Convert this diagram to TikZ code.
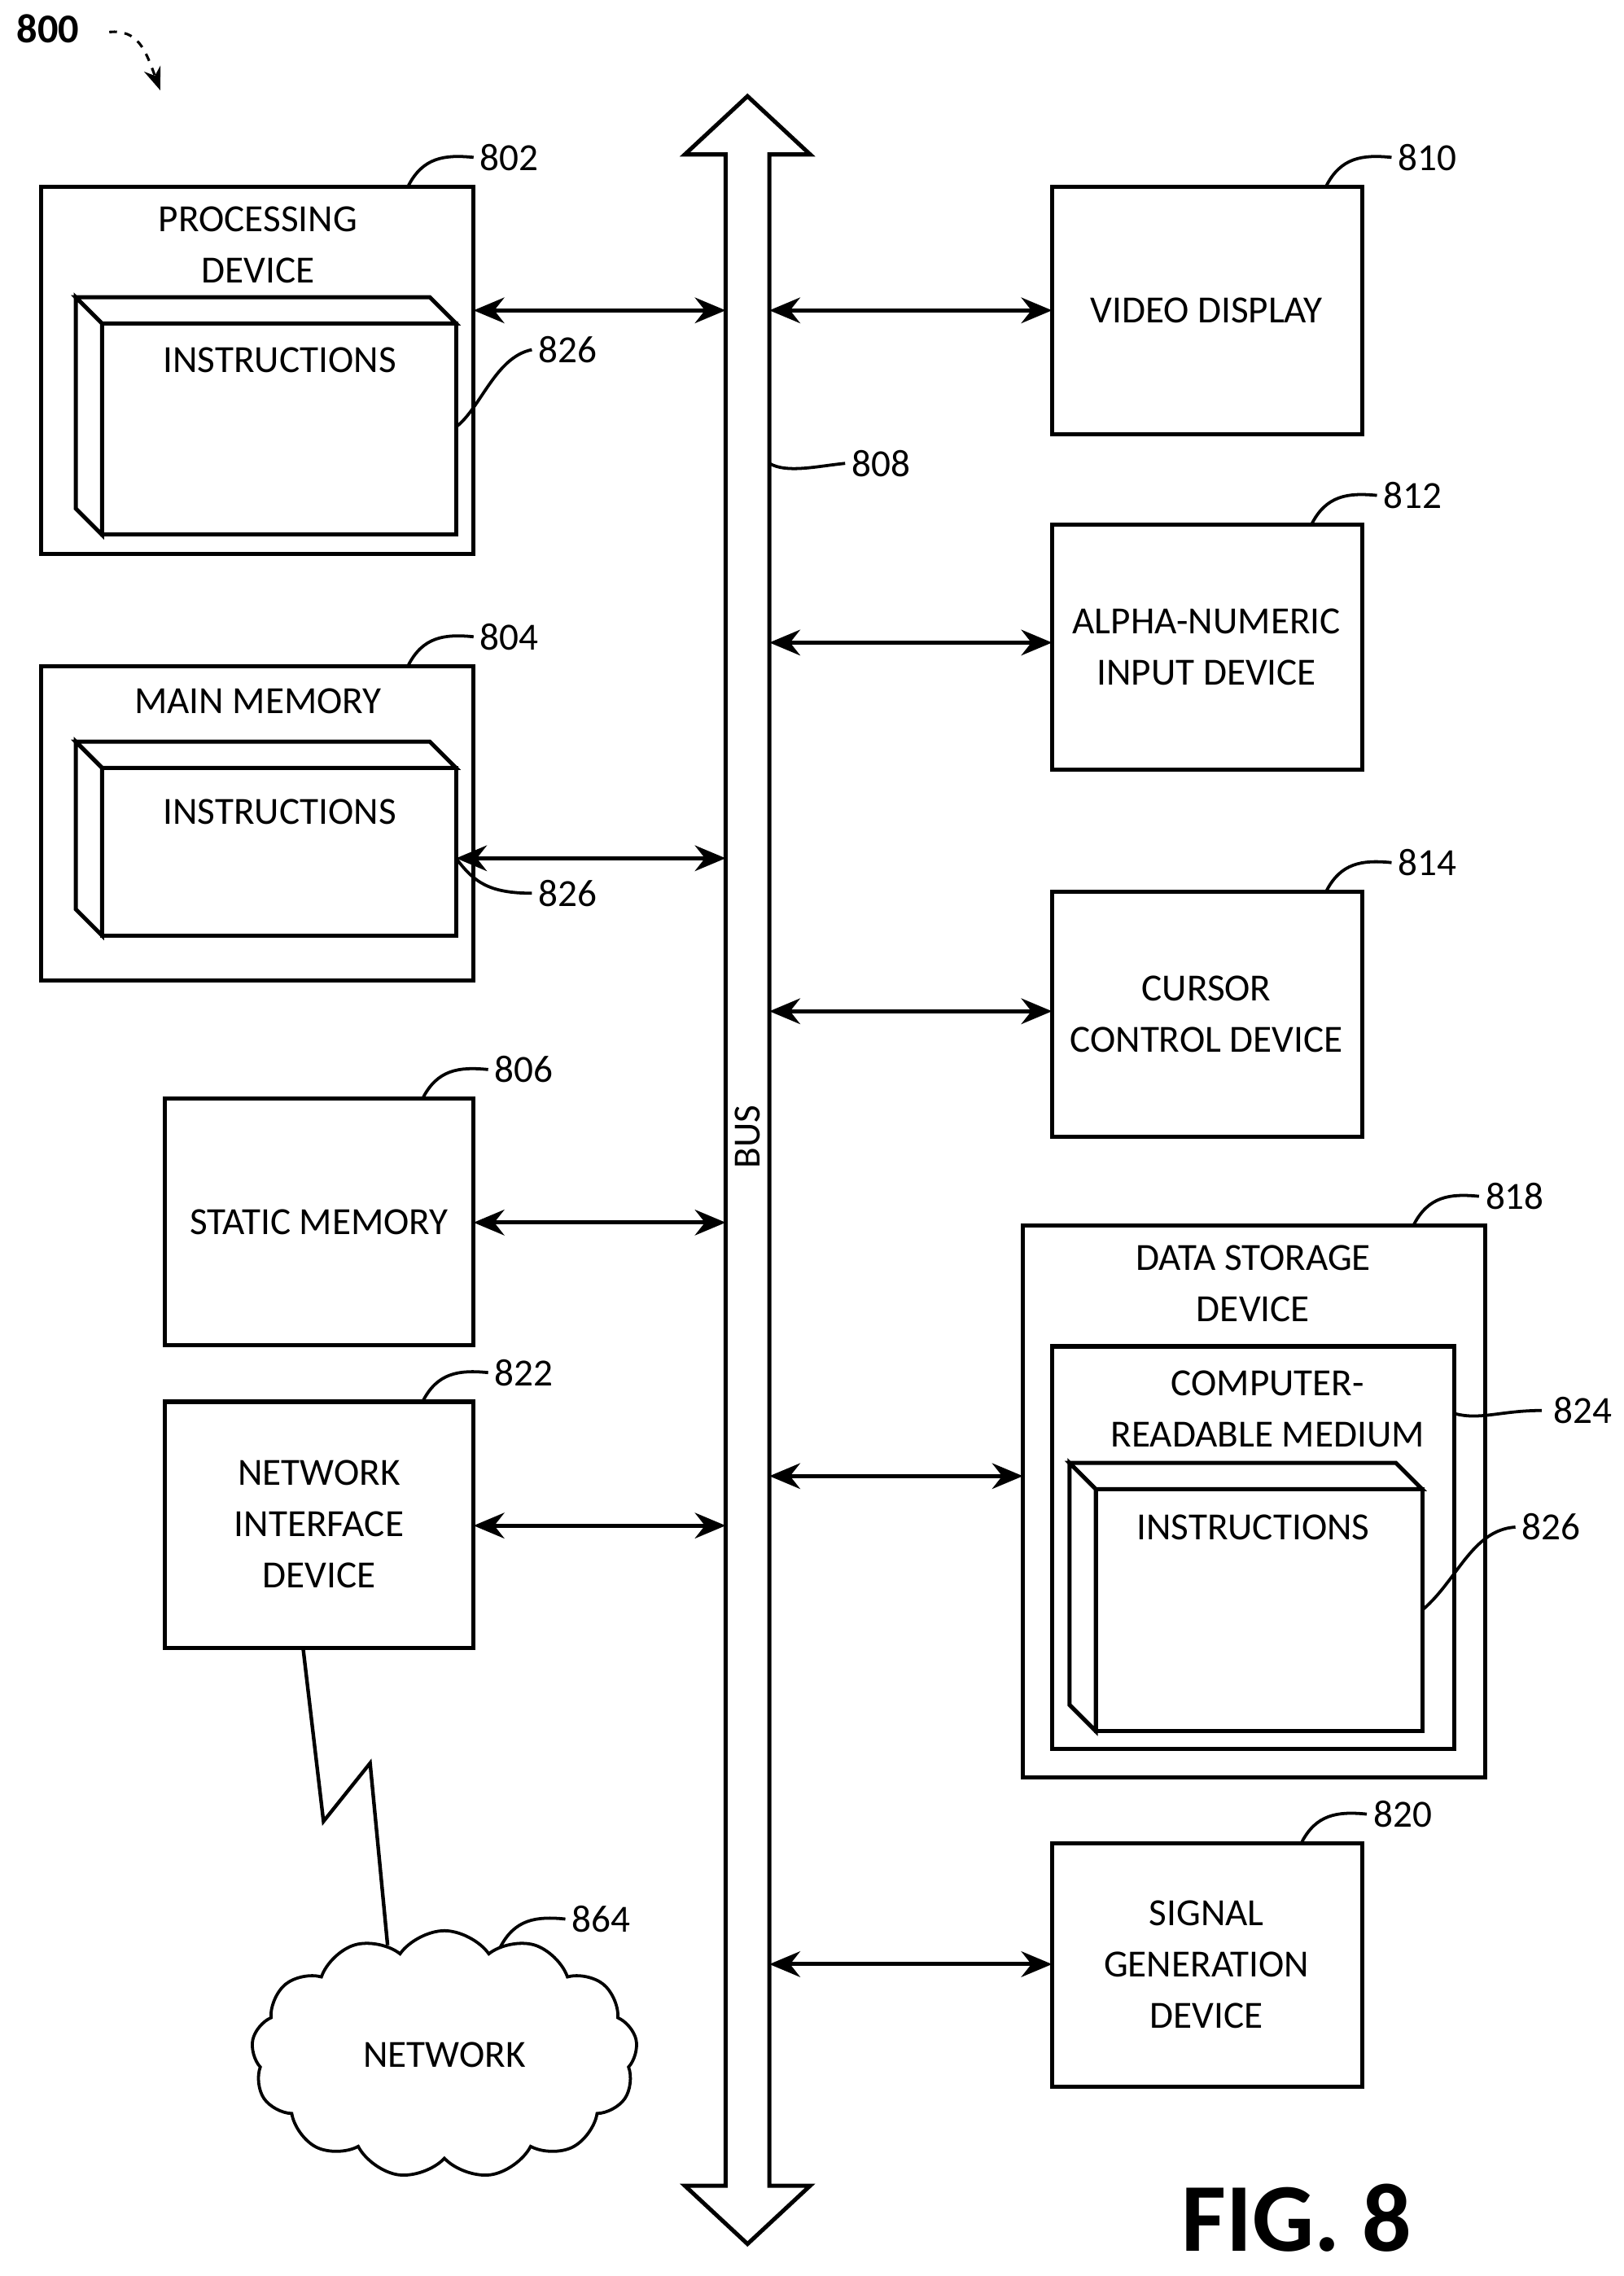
\documentclass[tikz,border=0pt]{standalone}
\usepackage{fontspec}
\setmainfont{Carlito}
\usetikzlibrary{arrows.meta,shapes.symbols}
\tikzset{
  box/.style={draw,line width=1.6pt},
  lbl/.style={font=\fontsize{15}{20}\selectfont,align=center},
  bi/.style={line width=1.6pt,{Stealth[length=12pt,width=10pt]}-{Stealth[length=12pt,width=10pt]}},
  lead/.style={line width=1.2pt}
}
\newcommand{\instrbox}[4]{% front x1,y1,x2,y2
  \draw[box,fill=white] (#1-18,#2-18) -- (#3-18,#2-18) -- (#3,#2) -- (#1,#2) -- cycle;
  \draw[box,fill=white] (#1-18,#2-18) -- (#1,#2) -- (#1,#4) -- (#1-18,#4-18) -- cycle;
  \draw[box] (#1,#2) rectangle (#3,#4);
}
\newcommand{\refnum}[3]{% start x,y ; number
  \draw[lead] (#1,#2) .. controls (#1+10,#2-20) and (#1+25,#2-22) .. (#1+45,#2-20)
    node[lbl,right,inner sep=2pt]{#3};
}
\begin{document}
\begin{tikzpicture}[x=0.02cm,y=-0.02cm]
\useasboundingbox (0,0) rectangle (1114,1562);
% bus
\draw[box,fill=white] (513,66) -- (556,106) -- (528,106) -- (528,1500) -- (556,1500)
  -- (513,1540) -- (470,1500) -- (498,1500) -- (498,106) -- (470,106) -- cycle;
\node[lbl,rotate=90] (bus) at (513,780) {BUS};
% left column
\draw[box] (28,128) rectangle (325,380);
\node[lbl] (pdt) at (177,168) {PROCESSING\\DEVICE};
\instrbox{70}{222}{313}{367}
\node[lbl] (pdi) at (192,247) {INSTRUCTIONS};
\draw[box] (28,457) rectangle (325,673);
\node[lbl] (mmt) at (177,481) {MAIN MEMORY};
\instrbox{70}{527}{313}{642}
\node[lbl] (mmi) at (192,557) {INSTRUCTIONS};
\draw[box] (113,754) rectangle (325,923);
\node[lbl] (sm) at (219,839) {STATIC MEMORY};
\draw[box] (113,962) rectangle (325,1131);
\node[lbl] (nid) at (219,1046) {NETWORK\\INTERFACE\\DEVICE};
% right column
\draw[box] (722,128) rectangle (935,298);
\node[lbl] (vd) at (828,213) {VIDEO DISPLAY};
\draw[box] (722,360) rectangle (935,528);
\node[lbl] (an) at (828,444) {ALPHA-NUMERIC\\INPUT DEVICE};
\draw[box] (722,612) rectangle (935,780);
\node[lbl] (cc) at (828,696) {CURSOR\\CONTROL DEVICE};
\draw[box] (702,841) rectangle (1019,1220);
\node[lbl] (ds) at (860,881) {DATA STORAGE\\DEVICE};
\draw[box] (722,924) rectangle (998,1200);
\node[lbl] (crm) at (870,967) {COMPUTER-\\READABLE MEDIUM};
\instrbox{752}{1022}{976}{1188}
\node[lbl] (dsi) at (860,1048) {INSTRUCTIONS};
\draw[box] (722,1265) rectangle (935,1432);
\node[lbl] (sg) at (828,1348) {SIGNAL\\GENERATION\\DEVICE};
% bus arrows
\draw[bi] (325,213) -- (498,213);
\draw[bi] (528,213) -- (722,213);
\draw[bi] (528,441) -- (722,441);
\draw[bi] (313,589) -- (498,589);
\draw[bi] (528,694) -- (722,694);
\draw[bi] (325,839) -- (498,839);
\draw[bi] (528,1013) -- (702,1013);
\draw[bi] (325,1047) -- (498,1047);
\draw[bi] (528,1348) -- (722,1348);
% network
\draw[line width=1.4pt] (208,1131) -- (222,1250) -- (254,1210) -- (266,1335);
\node[cloud,draw,line width=1.2pt,cloud puffs=13,cloud puff arc=110,aspect=1.6,
  minimum width=5.3cm,minimum height=3.4cm,inner sep=0pt,
  fill=white,lbl] (net) at (305,1410) {NETWORK};
% reference numerals
\refnum{280}{128}{802}
\refnum{280}{457}{804}
\refnum{290}{754}{806}
\refnum{290}{962}{822}
\refnum{910}{128}{810}
\refnum{900}{360}{812}
\refnum{910}{612}{814}
\refnum{970}{841}{818}
\refnum{893}{1265}{820}
\refnum{343}{1337}{864}
\draw[lead] (528,318) .. controls (540,325) and (560,320) .. (580,318) node[lbl,right,inner sep=2pt]{808};
\draw[lead] (313,293) .. controls (330,280) and (340,245) .. (365,240) node[lbl,right,inner sep=2pt]{826};
\draw[lead] (313,589) .. controls (325,605) and (335,613) .. (365,613) node[lbl,right,inner sep=2pt]{826};
\draw[lead] (976,1105) .. controls (1000,1085) and (1010,1050) .. (1040,1048) node[lbl,right,inner sep=2pt]{826};
\draw[lead] (998,970) .. controls (1015,975) and (1030,968) .. (1058,968) node[lbl,right,inner sep=4pt]{824};
% figure labels
\node[font=\bfseries\fontsize{16}{18}\selectfont] (n800) at (33,20) {800};
\draw[dashed,line width=1pt,-{Stealth[length=9pt]}] (75,22) .. controls (95,20) and (100,35) .. (110,62);
\node[font=\bfseries\fontsize{38}{42}\selectfont] (fig) at (890,1522) {FIG. 8};
\end{tikzpicture}
\end{document}
